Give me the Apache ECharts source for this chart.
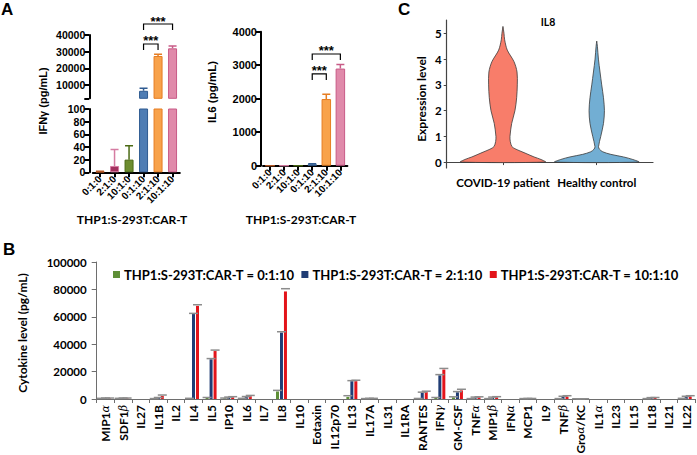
<!DOCTYPE html>
<html>
<head>
<meta charset="utf-8">
<script src="https://cdn.jsdelivr.net/npm/echarts@6/dist/echarts.min.js"></script>
<style>
html,body{margin:0;padding:0;background:#fff}
#main{width:697px;height:455px}
</style>
</head>
<body>
<div id="main"></div>
<script>
// ---- panel A : THP1:S-293T:CAR-T ratios
var ratios = ['0:1:0', '2:1:0', '10:1:0', '0:1:10', '2:1:10', '10:1:10'];
var ifngMean = [1, 10, 20, 6500, 27400, 32000];
var ifngErr = [0.5, 26, 22, 1500, 1000, 1400];
var il6Mean = [0, 0, 0, 40, 1990, 2900];
var il6Err = [0, 0, 0, 15, 140, 120];
// significance brackets: [from, to, height]
var ifngBrackets = [[3, 4, 34600], [3, 5, 46600]];
var il6Brackets = [[3, 4, 2740], [3, 5, 3335]];
var ifngUpperTicks = [2000, 10000, 20000, 30000, 40000];
var ifngUpperLabels = [10000, 20000, 30000, 40000];

// ---- panel B : cytokine panel
var cytokines = ['MIP1α', 'SDF1β', 'IL27', 'IL1B', 'IL2', 'IL4', 'IL5', 'IP10', 'IL6', 'IL7', 'IL8', 'IL10', 'Eotaxin', 'IL12p70', 'IL13', 'IL17A', 'IL31', 'IL1RA', 'RANTES', 'IFNγ', 'GM-CSF', 'TNFα', 'MIP1β', 'IFNα', 'MCP1', 'IL9', 'TNFβ', 'Groα/KC', 'IL1α', 'IL23', 'IL15', 'IL18', 'IL21', 'IL22'];
var names = ['THP1:S-293T:CAR-T = 0:1:10', 'THP1:S-293T:CAR-T = 2:1:10', 'THP1:S-293T:CAR-T = 10:1:10'];
var mean010 = [300, 300, 0, 200, 0, 300, 800, 500, 300, 0, 5500, 0, 0, 0, 1500, 200, 0, 0, 200, 800, 1200, 200, 200, 0, 200, 0, 200, 100, 0, 0, 0, 200, 0, 300];
var err010 = [200, 200, 0, 100, 0, 200, 300, 200, 200, 0, 800, 0, 0, 0, 900, 100, 0, 0, 200, 300, 400, 100, 100, 0, 100, 0, 100, 100, 0, 0, 0, 100, 0, 200];
var mean210 = [400, 400, 0, 800, 0, 62000, 29000, 1000, 1400, 0, 48500, 0, 0, 0, 13000, 300, 0, 0, 4500, 17300, 4900, 1000, 1000, 0, 200, 0, 1500, 100, 0, 0, 0, 700, 0, 1500];
var err210 = [300, 300, 0, 300, 0, 500, 500, 400, 400, 0, 600, 0, 0, 0, 400, 200, 0, 0, 500, 500, 500, 400, 400, 0, 200, 0, 500, 100, 0, 0, 0, 300, 0, 500];
var mean1010 = [400, 400, 0, 2200, 0, 68000, 35000, 1200, 2000, 0, 78500, 0, 0, 0, 13000, 300, 0, 0, 5000, 21500, 6300, 1200, 1200, 0, 200, 0, 1700, 100, 0, 0, 0, 800, 0, 1800];
var err1010 = [300, 300, 0, 700, 0, 800, 700, 500, 600, 0, 2000, 0, 0, 0, 700, 200, 0, 0, 700, 800, 800, 400, 500, 0, 200, 0, 700, 100, 0, 0, 0, 300, 0, 600];

// ---- panel C : IL8 violin
var groups = ['COVID-19 patient', 'Healthy control'];
var covidLevels = [0, 0.1, 0.2, 0.3, 0.4, 0.5, 0.6, 0.8, 1.0, 1.5, 2.0, 2.5, 3.0, 3.5, 3.9, 4.35, 4.75, 5.0, 5.27];
var covidDensity = [0.454, 0.406, 0.331, 0.267, 0.203, 0.139, 0.096, 0.078, 0.075, 0.093, 0.128, 0.146, 0.153, 0.150, 0.118, 0.046, 0.018, 0.011, 0];
var healthyLevels = [0, 0.1, 0.2, 0.3, 0.4, 0.5, 0.6, 1.0, 1.5, 2.0, 2.5, 3.0, 3.5, 4.0, 4.5, 4.7];
var healthyDensity = [0.449, 0.385, 0.285, 0.150, 0.064, 0.029, 0.019, 0.043, 0.072, 0.082, 0.072, 0.053, 0.035, 0.018, 0.007, 0];
var exprTicks = [0, 1, 2, 3, 4, 5];

var fillA = ['#d0703a', '#a3315f', '#6d8d2f', '#4f7db4', '#f8a24b', '#e08aaa'];
var edgeA = ['#b85a28', '#d57ca2', '#4b6a14', '#2f5b91', '#e67d22', '#c85b87'];
var colorsB = ['#5e8f37', '#203d75', '#e3141a'];
var violinFill = ['#f87d6a', '#72aed3'];

var fA = 'Liberation Sans';
var fB = 'Lato';

function plain(v) {
	return String(v);
}

function axisA(extra) {
	var o = {
		axisLine: {show: true, lineStyle: {color: '#000', width: 2}},
		axisTick: {show: true, length: 5, lineStyle: {color: '#000', width: 2}},
		axisLabel: {color: '#000', fontFamily: fA, fontWeight: 'bold', fontSize: 10.5, margin: 4, formatter: plain},
		splitLine: {show: false}
	};
	for (var k in extra) o[k] = extra[k];
	return o;
}

function barData(vals) {
	return vals.map(function(v, i) {
		return {value: v, itemStyle: {color: fillA[i], borderColor: edgeA[i], borderWidth: 1}};
	});
}

function errRows(m, e) {
	return m.map(function(v, i) { return [i, v, e[i]]; });
}

function errItemA(params, api) {
	var i = api.value(0), m = api.value(1), e = api.value(2);
	if (!e) return;
	var p0 = api.coord([i, m]);
	var p1 = api.coord([i, m + e]);
	var c = edgeA[i];
	return {type: 'group', children: [
		{type: 'line', shape: {x1: p0[0], y1: p0[1], x2: p1[0], y2: p1[1]}, style: {stroke: c, lineWidth: 1.5}},
		{type: 'line', shape: {x1: p1[0] - 4, y1: p1[1], x2: p1[0] + 4, y2: p1[1]}, style: {stroke: c, lineWidth: 1.5}}
	]};
}

function bracketItem(params, api) {
	var y = api.value(2);
	var p1 = api.coord([api.value(0), y]);
	var p2 = api.coord([api.value(1), y]);
	return {type: 'group', children: [
		{type: 'polyline', shape: {points: [[p1[0], p1[1] + 6], [p1[0], p1[1]], [p2[0], p2[1]], [p2[0], p2[1] + 6]]},
			style: {stroke: '#000', lineWidth: 1.2, fill: null}},
		{type: 'text', x: (p1[0] + p2[0]) / 2, y: p1[1] - 3,
			style: {text: '***', align: 'center', verticalAlign: 'middle', font: 'bold 13px ' + fA, fill: '#000'}}
	]};
}

var capOffset = [-4, 0, 4];
function capItemB(k) {
	return function(params, api) {
		var e = api.value(2);
		if (!e) return;
		var p = api.coord([api.value(0), api.value(1) + e]);
		var x = p[0] + capOffset[k];
		return {type: 'line', shape: {x1: x - 4.5, y1: p[1], x2: x + 4.5, y2: p[1]}, style: {stroke: '#8c8c8c', lineWidth: 1.5}};
	};
}

var violinShapes = [
	{levels: covidLevels, width: covidDensity},
	{levels: healthyLevels, width: healthyDensity}
];
function violinItem(params, api) {
	var s = violinShapes[params.dataIndex];
	var c = api.value(0);
	var left = [], right = [];
	for (var k = 0; k < s.levels.length; k++) {
		left.push(api.coord([c - s.width[k], s.levels[k]]));
		right.unshift(api.coord([c + s.width[k], s.levels[k]]));
	}
	return {type: 'polygon', shape: {points: left.concat(right), smooth: 0.3},
		style: {fill: violinFill[params.dataIndex], stroke: '#3a3a3a', lineWidth: 0.8}};
}

function greek(v) {
	return v.replace(/([αβγ])/g, '{g|$1}');
}

var chart = echarts.init(document.getElementById('main'), null, {renderer: 'svg'});

var option = {
	backgroundColor: '#fff',
	animation: false,
	textStyle: {fontFamily: fB},
	grid: [
		{left: 92.8, top: 35, width: 87, height: 63.3, containLabel: false, outerBoundsMode: 'none'},
		{left: 92.8, top: 109, width: 87, height: 63.3, containLabel: false, outerBoundsMode: 'none'},
		{left: 263, top: 31.7, width: 84.4, height: 134, containLabel: false, outerBoundsMode: 'none'},
		{left: 446.7, top: 20, width: 206.3, height: 148, containLabel: false, outerBoundsMode: 'none'},
		{left: 96.7, top: 262, width: 598.3, height: 137, containLabel: false, outerBoundsMode: 'none'}
	],
	xAxis: [
		{type: 'category', gridIndex: 0, data: ratios, show: false},
		axisA({type: 'category', gridIndex: 1, data: ratios,
			axisTick: {show: true, alignWithLabel: true, length: 5, lineStyle: {color: '#000', width: 2}},
			axisLabel: {color: '#000', fontFamily: fA, fontWeight: 'bold', fontSize: 10, rotate: 45, interval: 0, margin: 5}}),
		axisA({type: 'category', gridIndex: 2, data: ratios,
			axisTick: {show: true, alignWithLabel: true, length: 5, lineStyle: {color: '#000', width: 2}},
			axisLabel: {color: '#000', fontFamily: fA, fontWeight: 'bold', fontSize: 10, rotate: 45, interval: 0, margin: 5}}),
		{type: 'value', gridIndex: 3, min: 0.4, max: 2.6,
			axisLine: {show: true, lineStyle: {color: '#444', width: 1.2}},
			axisTick: {show: true, length: 3, customValues: [1, 2], lineStyle: {color: '#444'}},
			axisLabel: {customValues: [1, 2], formatter: function(v) { return groups[Math.round(v) - 1]; },
				color: '#000', fontFamily: fB, fontWeight: 'bold', fontSize: 11.5, margin: 8},
			splitLine: {show: false}},
		{type: 'category', gridIndex: 4, data: cytokines,
			axisLine: {show: true, lineStyle: {color: '#6e6e6e', width: 1}},
			axisTick: {show: true, length: 4, lineStyle: {color: '#6e6e6e'}},
			axisLabel: {interval: 0, rotate: 90, color: '#000', fontFamily: fB, fontWeight: 'bold', fontSize: 12, margin: 6,
				formatter: greek,
				rich: {g: {fontFamily: 'DejaVu Serif', fontStyle: 'italic', fontWeight: 'normal', fontSize: 11, color: '#000'}}}}
	],
	yAxis: [
		axisA({type: 'value', gridIndex: 0, min: 2000, max: 40000, offset: 3.5,
			axisTick: {show: true, length: 5, customValues: ifngUpperTicks, lineStyle: {color: '#000', width: 2}},
			axisLabel: {customValues: ifngUpperLabels, color: '#000', fontFamily: fA, fontWeight: 'bold', fontSize: 10.5, margin: 4, formatter: plain}}),
		axisA({type: 'value', gridIndex: 1, min: 0, max: 100, interval: 20, offset: 3.5}),
		axisA({type: 'value', gridIndex: 2, min: 0, max: 4000, interval: 1000, offset: 2,
			axisLabel: {color: '#000', fontFamily: fA, fontWeight: 'bold', fontSize: 11, margin: 4, formatter: plain}}),
		{type: 'value', gridIndex: 3, min: -0.23, max: 5.52,
			axisLine: {show: true, lineStyle: {color: '#444', width: 1.2}},
			axisTick: {show: true, length: 3, customValues: exprTicks, lineStyle: {color: '#444'}},
			axisLabel: {customValues: exprTicks, color: '#000', fontFamily: fB, fontWeight: 'bold', fontSize: 11.5, margin: 5, formatter: plain},
			splitLine: {show: false}},
		{type: 'value', gridIndex: 4, min: 0, max: 100000, interval: 20000,
			axisLine: {show: true, lineStyle: {color: '#6e6e6e', width: 1}},
			axisTick: {show: true, length: 5, lineStyle: {color: '#6e6e6e'}},
			axisLabel: {color: '#000', fontFamily: fB, fontWeight: 'bold', fontSize: 11.5, margin: 10, formatter: plain},
			splitLine: {show: false}}
	],
	legend: {
		left: 108, top: 263, itemWidth: 7, itemHeight: 7, itemGap: 7, icon: 'rect',
		data: names,
		textStyle: {fontFamily: fB, fontWeight: 'bold', fontSize: 13, color: '#000', padding: [3, 0, 0, -1]}
	},
	graphic: [
		{type: 'text', left: 1, top: 1, style: {text: 'A', font: 'bold 17px ' + fA, fill: '#000'}},
		{type: 'text', left: 3, top: 241, style: {text: 'B', font: 'bold 17px ' + fA, fill: '#000'}},
		{type: 'text', left: 398, top: 1, style: {text: 'C', font: 'bold 17px ' + fA, fill: '#000'}},
		{type: 'text', x: 43, y: 101, rotation: Math.PI / 2,
			style: {text: 'IFNγ (pg/mL)', font: 'bold 11px ' + fA, fill: '#000', align: 'center', verticalAlign: 'middle'}},
		{type: 'text', x: 212, y: 92, rotation: Math.PI / 2,
			style: {text: 'IL6 (pg/mL)', font: 'bold 11.5px ' + fA, fill: '#000', align: 'center', verticalAlign: 'middle'}},
		{type: 'text', x: 132, y: 219,
			style: {text: 'THP1:S-293T:CAR-T', font: 'bold 12px ' + fB, fill: '#000', align: 'center', verticalAlign: 'middle'}},
		{type: 'text', x: 301, y: 219,
			style: {text: 'THP1:S-293T:CAR-T', font: 'bold 12px ' + fB, fill: '#000', align: 'center', verticalAlign: 'middle'}},
		{type: 'text', x: 421, y: 99, rotation: Math.PI / 2,
			style: {text: 'Expression level', font: 'bold 12px ' + fB, fill: '#000', align: 'center', verticalAlign: 'middle'}},
		{type: 'text', x: 548, y: 22,
			style: {text: 'IL8', font: 'bold 10.5px ' + fB, fill: '#000', align: 'center', verticalAlign: 'middle'}},
		{type: 'text', x: 22, y: 333, rotation: Math.PI / 2,
			style: {text: 'Cytokine level (pg/mL)', font: 'bold 12px ' + fB, fill: '#000', align: 'center', verticalAlign: 'middle'}}
	],
	series: [
		{type: 'bar', xAxisIndex: 0, yAxisIndex: 0, data: barData(ifngMean), barWidth: 9, clip: true},
		{type: 'bar', xAxisIndex: 1, yAxisIndex: 1, data: barData(ifngMean), barWidth: 9, clip: true},
		{type: 'bar', xAxisIndex: 2, yAxisIndex: 2, data: barData(il6Mean), barWidth: 9.5, clip: true},
		{type: 'custom', xAxisIndex: 0, yAxisIndex: 0, data: errRows(ifngMean, ifngErr), renderItem: errItemA, clip: true, z: 3},
		{type: 'custom', xAxisIndex: 1, yAxisIndex: 1, data: errRows(ifngMean, ifngErr), renderItem: errItemA, clip: true, z: 3},
		{type: 'custom', xAxisIndex: 2, yAxisIndex: 2, data: errRows(il6Mean, il6Err), renderItem: errItemA, clip: true, z: 3},
		{type: 'custom', xAxisIndex: 0, yAxisIndex: 0, data: ifngBrackets, renderItem: bracketItem, clip: false, z: 4},
		{type: 'custom', xAxisIndex: 2, yAxisIndex: 2, data: il6Brackets, renderItem: bracketItem, clip: false, z: 4},
		{type: 'custom', xAxisIndex: 3, yAxisIndex: 3, data: [[1], [2]], renderItem: violinItem, clip: false},
		{name: names[0], type: 'bar', xAxisIndex: 4, yAxisIndex: 4, data: mean010, barWidth: 3, barGap: '33%', itemStyle: {color: colorsB[0]}},
		{name: names[1], type: 'bar', xAxisIndex: 4, yAxisIndex: 4, data: mean210, barWidth: 3, barGap: '33%', itemStyle: {color: colorsB[1]}},
		{name: names[2], type: 'bar', xAxisIndex: 4, yAxisIndex: 4, data: mean1010, barWidth: 3, barGap: '33%', itemStyle: {color: colorsB[2]}},
		{type: 'custom', xAxisIndex: 4, yAxisIndex: 4, data: errRows(mean010, err010), renderItem: capItemB(0), z: 3},
		{type: 'custom', xAxisIndex: 4, yAxisIndex: 4, data: errRows(mean210, err210), renderItem: capItemB(1), z: 3},
		{type: 'custom', xAxisIndex: 4, yAxisIndex: 4, data: errRows(mean1010, err1010), renderItem: capItemB(2), z: 3}
	]
};

chart.setOption(option);
</script>
</body>
</html>
